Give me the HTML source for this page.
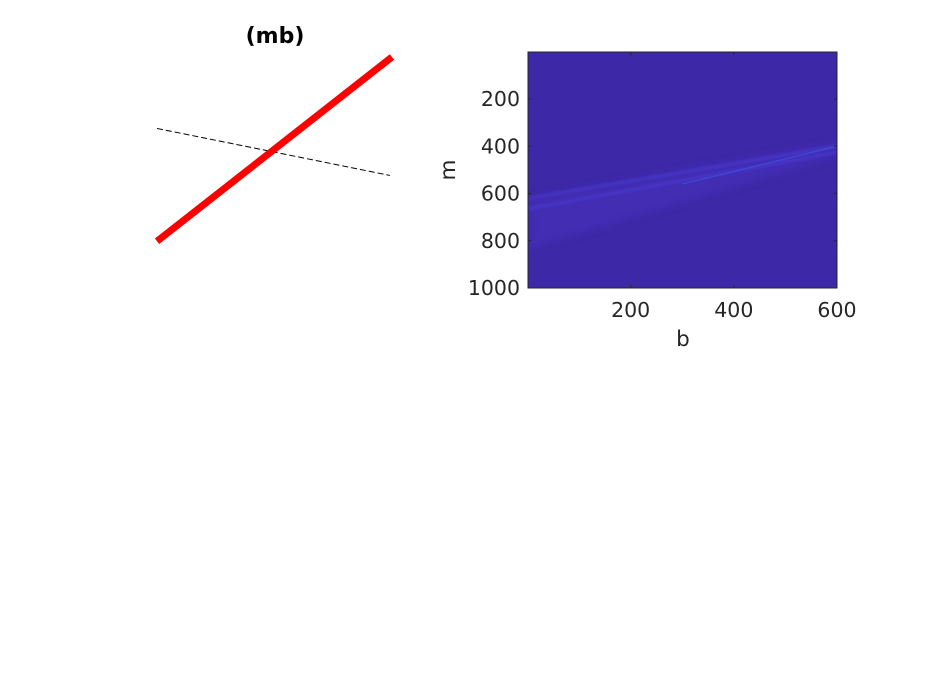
<!DOCTYPE html>
<html><head><meta charset="utf-8"><style>
body{margin:0;background:#fff;}
svg{display:block;font-family:"DejaVu Sans","Liberation Sans",sans-serif;}
</style></head><body>
<svg id="fig" width="926" height="695">
<defs>
<filter id="blur" x="-10%" y="-50%" width="120%" height="200%"><feGaussianBlur stdDeviation="4"/></filter>
<filter id="blur2" x="-10%" y="-50%" width="120%" height="200%"><feGaussianBlur stdDeviation="1.2"/></filter>
<clipPath id="hc"><rect x="528" y="52" width="309" height="236"/></clipPath>
</defs>
<text x="275" y="43" text-anchor="middle" font-size="22" font-weight="bold">(mb)</text>
<g id="left"></g>
<g id="right"></g>
</svg>
<script>
const NS="http://www.w3.org/2000/svg";
function mk(t,a,p){const e=document.createElementNS(NS,t);for(const k in a)e.setAttribute(k,a[k]);p.appendChild(e);return e;}
// left plot data (normalized coordinates 0..1)
const redLine=[[0,0.02],[1,1]];
const dashLine=[[0,0.62],[1,0.37]];
const L={x0:157,x1:392,y0:245,y1:57};
const lx=v=>L.x0+v*(L.x1-L.x0), ly=v=>L.y0+v*(L.y1-L.y0);
const left=document.getElementById('left');
let d=mk('line',{x1:lx(dashLine[0][0]),y1:ly(dashLine[0][1]),x2:lx(dashLine[1][0])-2,y2:ly(dashLine[1][1]),stroke:'#000','stroke-width':1,'stroke-dasharray':'6,3'},left);


let r=mk('line',{x1:lx(redLine[0][0]),y1:ly(redLine[0][1]),x2:lx(redLine[1][0]),y2:ly(redLine[1][1]),stroke:'#f00','stroke-width':7},left);



// heatmap
const bRange=[1,600], mRange=[1,1000];
const xTicks=[200,400,600], yTicks=[200,400,600,800,1000];
// ridge lines: [b, m] endpoints
const ridgeA=[[1,620],[600,400]];
const ridgeB=[[1,665],[600,425]];
const ridgeBright=[[300,560],[600,400]];
const H={x0:528,x1:837,y0:52,y1:288};
const hx=b=>H.x0+(b-bRange[0])/(bRange[1]-bRange[0])*(H.x1-H.x0);
const hy=m=>H.y0+(m-mRange[0])/(mRange[1]-mRange[0])*(H.y1-H.y0);
const right=document.getElementById('right');
let bg=mk('rect',{x:H.x0,y:H.y0,width:H.x1-H.x0,height:H.y1-H.y0,fill:'#3d28a7'},right);


const g=mk('g',{'clip-path':'url(#hc)'},right);
mk('polygon',{points:`${hx(ridgeA[0][0])},${hy(ridgeA[0][1])} ${hx(ridgeA[1][0])},${hy(ridgeA[1][1])-4} ${hx(ridgeB[1][0])},${hy(ridgeB[1][1])+4} ${hx(ridgeB[0][0])},${hy(ridgeB[0][1])+40}`,fill:'#4633c0',opacity:0.5,filter:'url(#blur)'},g);
[ridgeA,ridgeB].forEach((rd,i)=>{
 const l=mk('line',{x1:hx(rd[0][0]),y1:hy(rd[0][1]),x2:hx(rd[1][0]),y2:hy(rd[1][1]),stroke:'#4a3ad0','stroke-width':3,opacity:0.7,filter:'url(#blur2)'},g);
 
 
});
let br=mk('line',{x1:hx(ridgeBright[0][0]),y1:hy(ridgeBright[0][1]),x2:hx(ridgeBright[1][0]),y2:hy(ridgeBright[1][1]),stroke:'#3a60f0','stroke-width':1.2,opacity:0.55},g);


mk('rect',{x:H.x0,y:H.y0,width:H.x1-H.x0,height:H.y1-H.y0,fill:'none',stroke:'#262626','stroke-width':1},right);
xTicks.forEach(t=>{
 mk('line',{x1:hx(t),x2:hx(t),y1:H.y1,y2:H.y1-3,stroke:'#262626'},right);
 mk('line',{x1:hx(t),x2:hx(t),y1:H.y0,y2:H.y0+3,stroke:'#262626'},right);
 const tx=mk('text',{x:hx(t),y:H.y1+29,'text-anchor':'middle','font-size':20.5,fill:'#262626'},right);tx.textContent=t;
 
 
});
yTicks.forEach(t=>{
 mk('line',{x1:H.x0,x2:H.x0+3,y1:hy(t),y2:hy(t),stroke:'#262626'},right);
 mk('line',{x1:H.x1,x2:H.x1-3,y1:hy(t),y2:hy(t),stroke:'#262626'},right);
 const tx=mk('text',{x:H.x0-8,y:hy(t)+7,'text-anchor':'end','font-size':20.5,fill:'#262626'},right);tx.textContent=t;
 
 
});
const xl=mk('text',{x:683,y:346,'text-anchor':'middle','font-size':21.5,fill:'#262626'},right);xl.textContent='b';


const yl=mk('text',{x:455,y:170,'text-anchor':'middle','font-size':21.5,fill:'#262626',transform:'rotate(-90 455 170)'},right);yl.textContent='m';


</script>
</body></html>
